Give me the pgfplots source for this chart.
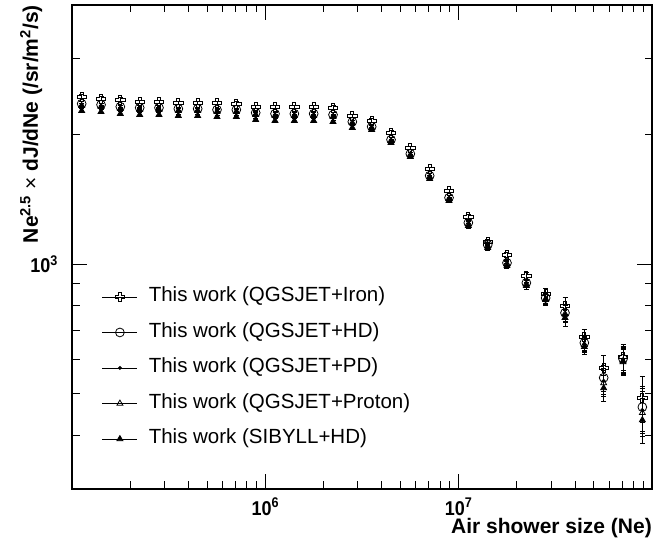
\documentclass[border=0pt]{standalone}
\usepackage{graphicx}
\usepackage{fontspec}
\setmainfont{Liberation Sans}
\usepackage{pgfplots}
\usepackage{pgfplotstable}
\pgfplotsset{compat=1.18}

\newcommand{\tl}[1]{\scalebox{0.9}[1]{\fontsize{20}{24}\selectfont\bfseries #1}}

\pgfdeclareplotmark{ocross}{%
 \pgfpathmoveto{\pgfqpoint{-0.33\pgfplotmarksize}{\pgfplotmarksize}}%
 \pgfpathlineto{\pgfqpoint{0.33\pgfplotmarksize}{\pgfplotmarksize}}%
 \pgfpathlineto{\pgfqpoint{0.33\pgfplotmarksize}{0.33\pgfplotmarksize}}%
 \pgfpathlineto{\pgfqpoint{\pgfplotmarksize}{0.33\pgfplotmarksize}}%
 \pgfpathlineto{\pgfqpoint{\pgfplotmarksize}{-0.33\pgfplotmarksize}}%
 \pgfpathlineto{\pgfqpoint{0.33\pgfplotmarksize}{-0.33\pgfplotmarksize}}%
 \pgfpathlineto{\pgfqpoint{0.33\pgfplotmarksize}{-\pgfplotmarksize}}%
 \pgfpathlineto{\pgfqpoint{-0.33\pgfplotmarksize}{-\pgfplotmarksize}}%
 \pgfpathlineto{\pgfqpoint{-0.33\pgfplotmarksize}{-0.33\pgfplotmarksize}}%
 \pgfpathlineto{\pgfqpoint{-\pgfplotmarksize}{-0.33\pgfplotmarksize}}%
 \pgfpathlineto{\pgfqpoint{-\pgfplotmarksize}{0.33\pgfplotmarksize}}%
 \pgfpathlineto{\pgfqpoint{-0.33\pgfplotmarksize}{0.33\pgfplotmarksize}}%
 \pgfpathclose
 \pgfusepathqstroke}

\pgfplotstableread{
x       iron hd   pd   pr   sib  err
1.122e5 2448 2358 2345 2333 2271 0.01
1.413e5 2422 2345 2333 2320 2259 0.01
1.778e5 2409 2320 2308 2295 2235 0.01
2.239e5 2383 2308 2295 2283 2223 0.01
2.818e5 2383 2308 2295 2283 2223 0.01
3.548e5 2370 2295 2283 2271 2211 0.01
4.467e5 2370 2295 2283 2271 2211 0.01
5.623e5 2370 2283 2271 2259 2199 0.01
7.079e5 2358 2283 2271 2259 2199 0.01
8.913e5 2320 2247 2235 2223 2164 0.01
1.122e6 2320 2235 2223 2211 2153 0.01
1.413e6 2320 2235 2223 2211 2153 0.01
1.778e6 2320 2235 2223 2211 2153 0.01
2.239e6 2308 2223 2211 2199 2141 0.01
2.818e6 2211 2141 2130 2130 2074 0.01
3.548e6 2153 2085 2074 2074 2052 0.01
4.467e6 2019 1945 1934 1934 1914 0.01
5.623e6 1863 1804 1795 1795 1776 0.01
7.079e6 1665 1604 1595 1595 1578 0.01
8.913e6 1480 1426 1418 1418 1403 0.01
1.122e7 1287 1247 1240 1240 1227 0.012
1.413e7 1126 1108 1102 1102 1091 0.012
1.778e7 1051 1006 1001 1001 990  0.015
2.239e7 939  904  899  899  890  0.02
2.818e7 852  834  830  830  826  0.03
3.548e7 799  770  766  766  750  0.045
4.467e7 677  656  652  649  642  0.04
5.623e7 573  544  535  529  515  0.07
7.079e7 608  602  599  595  592  0.07
8.913e7 488  465  458  451  434  0.12
}\data

\begin{document}
\begin{tikzpicture}
\useasboundingbox (-72pt,-56pt) rectangle (595pt,489pt);
\begin{axis}[
  scale only axis, width=580pt, height=484pt,
  xmode=log, ymode=log,
  xmin=1e5, xmax=1e8, ymin=300, ymax=4000,
  axis line style={line width=1.5pt},
  tick align=inside, xtick pos=both, ytick pos=both,
  xticklabel pos=lower, yticklabel pos=left,
  major tick length=15pt, minor tick length=7.5pt,
  tick style={line width=0.8pt, black},
  xtick={1e6,1e7},
  xticklabels={\tl{10\textsuperscript{6}},\tl{10\textsuperscript{7}}},
  minor xtick={2e5,3e5,4e5,5e5,6e5,7e5,8e5,9e5,2e6,3e6,4e6,5e6,6e6,7e6,8e6,9e6,2e7,3e7,4e7,5e7,6e7,7e7,8e7,9e7},
  ytick={1000},
  yticklabels={\tl{10\textsuperscript{3}}},
  minor ytick={400,500,600,700,800,900,2000,3000},
  xticklabel style={anchor=north, inner sep=0pt, yshift=-9pt},
  yticklabel style={anchor=east, inner sep=0pt, xshift=-14pt},
  xlabel={Air shower size (Ne)},
  xlabel style={at={(axis description cs:1,-0.06)}, anchor=north east, inner sep=0pt, font=\fontsize{21}{25}\selectfont\bfseries},
  ylabel={Ne\textsuperscript{2.5} {\mdseries×} dJ/dNe (/sr/m\textsuperscript{2}/s)},
  ylabel style={at={(axis description cs:-0.051,1)}, anchor=south east, inner sep=0pt, font=\fontsize{21}{25}\selectfont\bfseries},
  legend style={at={(axis description cs:0.0517,0.4174)}, anchor=north west, draw=none, fill=none,
    inner sep=0pt, outer sep=0pt, row sep=15.5pt, column sep=11pt,
    font=\fontsize{20.5}{24}\selectfont,
    nodes={inner sep=0pt, text height=15pt, text depth=5pt}},
  legend cell align=left,
  legend image code/.code={%
    \draw[black, line width=0.8pt, mark=none, solid] (0pt,0pt) -- (35pt,0pt);
    \draw plot coordinates {(17.5pt,0pt)};},
  every axis plot/.append style={black, line width=0.8pt, only marks},
  error bars/y dir=both, error bars/y explicit relative,
  error bars/error bar style={line width=0.8pt},
  error bars/error mark options={rotate=90, mark size=2.5pt, line width=0.8pt},
]
\addplot[mark=ocross, mark size=4.6pt] table[x=x, y=iron, y error=err]{\data};
\addlegendentry{This work (QGSJET+Iron)}
\addplot[mark=o, mark size=4.4pt] table[x=x, y=hd, y error=err]{\data};
\addlegendentry{This work (QGSJET+HD)}
\addplot[mark=*, mark size=1.5pt] table[x=x, y=pd, y error=err]{\data};
\addlegendentry{This work (QGSJET+PD)}
\addplot[mark=triangle, mark size=3.4pt] table[x=x, y=pr, y error=err]{\data};
\addlegendentry{This work (QGSJET+Proton)}
\addplot[mark=triangle*, mark size=3.4pt] table[x=x, y=sib, y error=err]{\data};
\addlegendentry{This work (SIBYLL+HD)}
\end{axis}
\end{tikzpicture}
\end{document}
